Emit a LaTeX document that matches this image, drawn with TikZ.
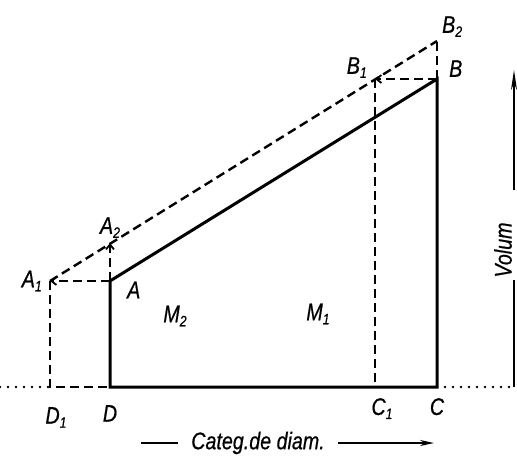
\documentclass[tikz,border=0pt]{standalone}
\usepackage{fontspec}
\newfontfamily\platefont{Liberation Sans}[FakeStretch=0.82, FakeBold=0.6]
\usetikzlibrary{arrows.meta,positioning}
\newcommand{\ix}[1]{\raisebox{-4pt}{\fontsize{15}{15}\selectfont #1}}

\begin{document}
\begin{tikzpicture}[
  x=1pt, y=-1pt,
  outline/.style={line width=3pt, line join=miter},
  shifted/.style={line width=2.4pt, dash pattern=on 9pt off 5pt},
  guide/.style={line width=2.6pt, line cap=round, dash pattern=on 0pt off 8pt},
  axis/.style={line width=2pt},
  tip/.style={-{Straight Barb[length=5pt, width=8pt, line width=1.8pt]}},
  lbl/.style={font=\platefont\itshape\fontsize{24}{24}\selectfont, inner sep=1pt}
]
\useasboundingbox (0,0) rectangle (517,458);
\coordinate (D) at (110,387);
\coordinate (A) at (110,281);
\coordinate (B) at (437,79);
\coordinate (C) at (437,387);
\coordinate (D1) at (50,387);
\coordinate (A1) at (50,281);
\coordinate (A2) at (110,243);
\coordinate (B1) at (375,79);
\coordinate (B2) at (437,41);
\coordinate (C1) at (375,387);
\coordinate (L) at (0,387);
\coordinate (R) at (514,387);
\coordinate (Vlow) at (514,280);
\coordinate (Vhigh) at (514,190);
\coordinate (Vtop) at (514,70);
\coordinate (catL) at (141,443);
\coordinate (catR) at (434,443);

\draw[outline] (D) -- (A) -- (B) -- (C) -- cycle;
\draw[shifted, tip] (A) -- (A1);
\draw[shifted] (A1) -- (D1) -- (D);
\draw[shifted, tip] (A) -- (A2);
\draw[shifted] (A1) -- (B2);
\draw[shifted, tip] (B) -- (B1);
\draw[shifted] (B1) -- (C1);
\draw[shifted] (B) -- (B2);
\draw[guide] (L) -- (D1);
\draw[guide] (C) -- (R);
\draw[axis] (R) -- (Vlow);
\draw[axis, -{Stealth[length=20pt, width=6pt]}] (Vhigh) -- (Vtop);

\node[lbl, left=7pt of A1] (lA1) {A\ix{1}};
\node[lbl, right=16pt of A, yshift=-9pt] (lA) {A};
\node[lbl, above=4pt of A2] (lA2) {A\ix{2}};
\node[lbl, below=19pt of D1, xshift=6pt] (lD1) {D\ix{1}};
\node[lbl, below=17pt of D] (lD) {D};
\node[lbl, below=10pt of C1, xshift=7pt] (lC1) {C\ix{1}};
\node[lbl, below=10pt of C] (lC) {C};
\node[lbl, above left=0pt and 7pt of B1] (lB1) {B\ix{1}};
\node[lbl, above right=1pt and 11pt of B] (lB) {B};
\node[lbl, above right=3pt and 4pt of B2] (lB2) {B\ix{2}};
\node[lbl] (lM2) at (175,316) {M\ix{2}};
\node[lbl] (lM1) at (318,314) {M\ix{1}};
\node[lbl, rotate=90] (vol) at (503,250) {Volum};
\node[lbl, inner xsep=13pt] (cat) at (258,443) {Categ.de diam.};

\draw[axis] (catL) -- (cat.west);
\draw[axis, -{Stealth[length=14pt, width=6pt]}] (cat.east) -- (catR);
\end{tikzpicture}
\end{document}
